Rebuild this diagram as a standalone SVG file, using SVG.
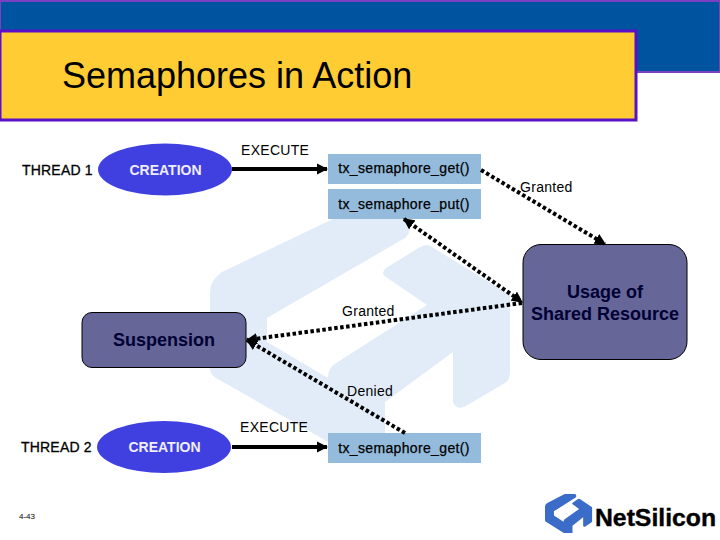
<svg xmlns="http://www.w3.org/2000/svg" xmlns:xlink="http://www.w3.org/1999/xlink" width="720" height="540" viewBox="0 0 720 540">
<style>
text{font-family:"Liberation Sans",Arial,sans-serif;fill:#000}
.l{font-size:14px;letter-spacing:.3px}
.m{font-size:14px;text-anchor:middle;letter-spacing:.35px;font-weight:normal;stroke:#000;stroke-width:.25px}
.t{font-size:14px;letter-spacing:.2px;stroke:#000;stroke-width:.3px}
.c{font-size:14px;font-weight:bold;fill:#eef;text-anchor:middle}
.b{font-size:18px;font-weight:bold;fill:#000033;text-anchor:middle}
.ell{fill:#4040E0}
.box{fill:#94BBDB}
.res{fill:#666699;stroke:#000;stroke-width:1}
.solid{stroke:#000;stroke-width:4;fill:none}
.dot{stroke:#000;stroke-width:4;fill:none;stroke-dasharray:3.500 2.500}
</style>
<defs>
<path id="mark" d="M335,218 L222,272 Q210,280 210,292 L210,368 Q210,374 216,378 L330,443 L385,443 L385,402 L453,352 L453,402 Q456,410 464,407 L505,383 Q510,380 510,372 L510,295 L432,247 Q428,243 420,247 L386,268 Q380,273 386,277 L427,305 L333,365 Q328,370 328,378 L267,342 L267,318 L405,238 Q412,232 408,225 L403,218 Z"/>
<marker id="head" viewBox="0 0 10 10" refX="9" refY="5" markerWidth="2.800" markerHeight="2.800" orient="auto-start-reverse"><path d="M0,0 L10,5 L0,10 Z" fill="#000"/></marker>
</defs>
<use xlink:href="#mark" href="#mark" fill="#E2ECF8"/>
<g id="title">
<rect x="0" y="1" width="720" height="71" fill="#00539F" stroke="#7B3FC4" stroke-width="2"/>
<rect x="0" y="31" width="636" height="89" fill="#FFCC33" stroke="#5A10C8" stroke-width="3"/>
<text x="62" y="88" font-size="36">Semaphores in Action</text>
</g>
<g id="thread1"><text class="t" x="22" y="175">THREAD 1</text></g>
<g id="creation1"><ellipse class="ell" cx="165" cy="169.500" rx="67" ry="26"/><text class="c" x="165.500" y="175">CREATION</text></g>
<g id="get1"><rect class="box" x="328" y="154" width="153" height="30"/><text class="m" x="404" y="173">tx_semaphore_get()</text></g>
<g id="put"><rect class="box" x="328" y="189" width="153" height="30"/><text class="m" x="404" y="209">tx_semaphore_put()</text></g>
<g id="usage"><rect class="res" x="523" y="244.500" width="164" height="115" rx="18"/><text class="b" x="605" y="298">Usage of</text><text class="b" x="605" y="320">Shared Resource</text></g>
<g id="suspension"><rect class="res" x="82" y="312.500" width="164" height="55" rx="10"/><text class="b" x="164" y="346">Suspension</text></g>
<g id="thread2"><text class="t" x="21" y="452">THREAD 2</text></g>
<g id="creation2"><ellipse class="ell" cx="164" cy="447" rx="67" ry="26"/><text class="c" x="164.500" y="452">CREATION</text></g>
<g id="get2"><rect class="box" x="328" y="433" width="153" height="30"/><text class="m" x="404" y="453">tx_semaphore_get()</text></g>
<g id="connectors">
<path class="solid" d="M232,169 H327" marker-end="url(#head)"/>
<path class="solid" d="M232,447 H327" marker-end="url(#head)"/>
<path class="dot" d="M481,170 L605,244" marker-end="url(#head)"/>
<path class="dot" d="M404,219 L522,302" marker-start="url(#head)" marker-end="url(#head)"/>
<path class="dot" d="M522,303 L247,340" marker-end="url(#head)"/>
<path class="dot" d="M405,433 L247,340" marker-end="url(#head)"/>
</g>
<g id="labels">
<text class="l" x="241" y="155">EXECUTE</text>
<text class="l" x="240" y="432">EXECUTE</text>
<text class="l" x="520" y="192">Granted</text>
<text class="l" x="342" y="316">Granted</text>
<text class="l" x="347" y="396">Denied</text>
<text x="19" y="519" font-size="8">4-43</text>
</g>
<g id="logo">
<use xlink:href="#mark" href="#mark" fill="#3A6CC8" transform="translate(545,494) scale(.157,.173) translate(-210,-218)"/>
<text x="595" y="526" font-size="24" font-weight="bold" stroke="#000" stroke-width=".4" textLength="121" lengthAdjust="spacingAndGlyphs">NetSilicon</text>
</g>
</svg>
